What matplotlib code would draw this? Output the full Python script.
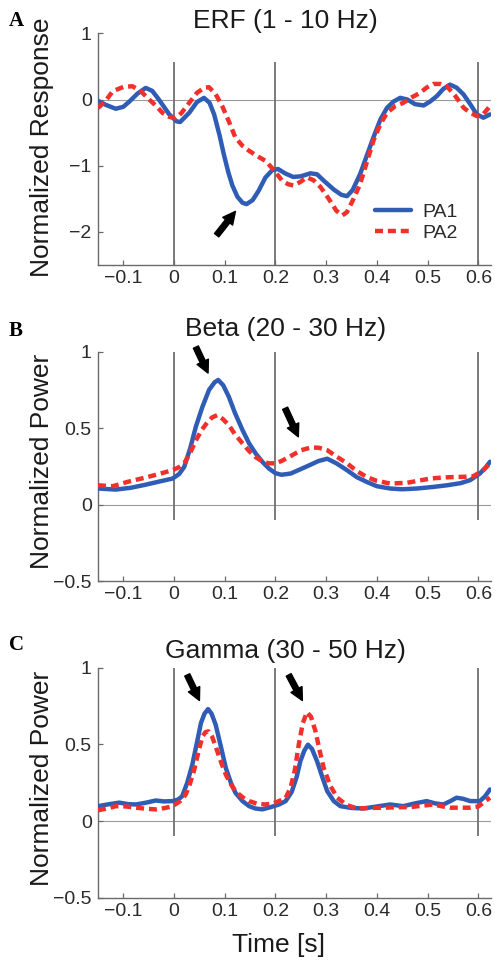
#!/usr/bin/env python3
"""ERF / beta / gamma responses for PA1 vs PA2, three stacked panels."""
import matplotlib

matplotlib.use("Agg")
import matplotlib.pyplot as plt

# ---- panel A: ERF (1 - 10 Hz) ----
erf_t_pa1 = [-0.15, -0.135, -0.115, -0.100, -0.088, -0.072, -0.056, -0.043, -0.030, -0.010,
             0.005, 0.012, 0.030, 0.045, 0.059, 0.070, 0.079, 0.090, 0.098, 0.107,
             0.115, 0.125, 0.135, 0.143, 0.155, 0.167, 0.180, 0.194, 0.205, 0.220,
             0.235, 0.250, 0.269, 0.282, 0.295, 0.315, 0.330, 0.341, 0.352, 0.367,
             0.380, 0.393, 0.407, 0.420, 0.433, 0.446, 0.460, 0.475, 0.492, 0.505,
             0.518, 0.531, 0.544, 0.557, 0.571, 0.584, 0.597, 0.610, 0.623]
erf_pa1 = [-0.02, -0.08, -0.14, -0.11, -0.03, 0.09, 0.175, 0.13, 0.0, -0.22,
           -0.33, -0.34, -0.2, -0.04, 0.025, -0.05, -0.225, -0.55, -0.825, -1.10,
           -1.30, -1.47, -1.56, -1.58, -1.52, -1.375, -1.18, -1.065, -1.05, -1.12,
           -1.17, -1.16, -1.115, -1.13, -1.225, -1.36, -1.44, -1.46, -1.37, -1.125,
           -0.85, -0.575, -0.30, -0.125, -0.03, 0.025, 0.0, -0.07, -0.09, -0.03,
           0.05, 0.16, 0.225, 0.18, 0.075, -0.07, -0.225, -0.275, -0.225]
erf_t_pa2 = [-0.15, -0.135, -0.121, -0.100, -0.082, -0.065, -0.049, -0.035, -0.023, -0.010,
             0.003, 0.015, 0.030, 0.045, 0.060, 0.069, 0.082, 0.095, 0.108, 0.121,
             0.135, 0.148, 0.165, 0.180, 0.195, 0.213, 0.225, 0.236, 0.250, 0.262,
             0.275, 0.289, 0.305, 0.320, 0.332, 0.341, 0.354, 0.367, 0.380, 0.393,
             0.407, 0.420, 0.436, 0.452, 0.468, 0.485, 0.498, 0.511, 0.525, 0.538,
             0.555, 0.571, 0.584, 0.597, 0.610, 0.623]
erf_pa2 = [-0.13, -0.02, 0.125, 0.19, 0.20, 0.12, 0.0, -0.1, -0.2, -0.26,
           -0.285, -0.2, -0.05, 0.1, 0.18, 0.185, 0.08, -0.1, -0.33, -0.575,
           -0.70, -0.775, -0.86, -0.925, -1.05, -1.225, -1.28, -1.3, -1.24, -1.175,
           -1.22, -1.325, -1.5, -1.68, -1.75, -1.70, -1.50, -1.275, -0.95, -0.625,
           -0.37, -0.2, -0.10, -0.05, 0.03, 0.10, 0.18, 0.235, 0.235, 0.2,
           0.05, -0.125, -0.2, -0.25, -0.22, -0.1]

# ---- panel B: beta (20 - 30 Hz) ----
beta_t_pa1 = [-0.15, -0.115, -0.085, -0.056, -0.030, -0.003, 0.010, 0.020, 0.032, 0.043,
              0.056, 0.069, 0.080, 0.087, 0.097, 0.108, 0.120, 0.135, 0.148, 0.161,
              0.174, 0.187, 0.200, 0.212, 0.230, 0.262, 0.285, 0.302, 0.320, 0.341,
              0.360, 0.380, 0.400, 0.426, 0.450, 0.479, 0.510, 0.538, 0.565, 0.584,
              0.603, 0.615, 0.623]
beta_pa1 = [0.105, 0.098, 0.11, 0.13, 0.15, 0.17, 0.20, 0.246, 0.37, 0.51,
            0.64, 0.75, 0.80, 0.815, 0.78, 0.705, 0.60, 0.487, 0.40, 0.334,
            0.28, 0.236, 0.205, 0.195, 0.203, 0.25, 0.285, 0.30, 0.27, 0.225,
            0.18, 0.148, 0.12, 0.105, 0.100, 0.105, 0.115, 0.126, 0.14, 0.16,
            0.203, 0.245, 0.28]
beta_t_pa2 = [-0.15, -0.121, -0.090, -0.056, -0.030, -0.003, 0.010, 0.020, 0.032, 0.043,
              0.055, 0.066, 0.075, 0.085, 0.096, 0.108, 0.120, 0.135, 0.148, 0.161,
              0.175, 0.187, 0.200, 0.212, 0.233, 0.250, 0.269, 0.285, 0.302, 0.320,
              0.341, 0.360, 0.380, 0.400, 0.426, 0.459, 0.480, 0.505, 0.530, 0.551,
              0.575, 0.590, 0.610, 0.623]
beta_pa2 = [0.126, 0.12, 0.15, 0.177, 0.20, 0.225, 0.245, 0.27, 0.34, 0.42,
            0.49, 0.54, 0.57, 0.585, 0.56, 0.52, 0.46, 0.40, 0.35, 0.31,
            0.28, 0.27, 0.27, 0.285, 0.323, 0.355, 0.373, 0.372, 0.356, 0.315,
            0.27, 0.22, 0.18, 0.155, 0.138, 0.142, 0.155, 0.17, 0.177, 0.18,
            0.182, 0.185, 0.225, 0.27]

# ---- panel C: gamma (30 - 50 Hz) ----
gamma_t_pa1 = [-0.15, -0.128, -0.108, -0.09, -0.075, -0.055, -0.036, -0.020, -0.003, 0.008,
               0.016, 0.026, 0.036, 0.045, 0.053, 0.060, 0.067, 0.074, 0.082, 0.092,
               0.102, 0.112, 0.121, 0.135, 0.148, 0.160, 0.174, 0.190, 0.207, 0.220,
               0.232, 0.242, 0.249, 0.257, 0.264, 0.272, 0.282, 0.292, 0.302, 0.315,
               0.328, 0.350, 0.374, 0.400, 0.426, 0.452, 0.475, 0.498, 0.515, 0.531,
               0.545, 0.557, 0.570, 0.584, 0.603, 0.613, 0.623]
gamma_pa1 = [0.097, 0.11, 0.12, 0.11, 0.108, 0.12, 0.134, 0.128, 0.13, 0.14,
             0.162, 0.25, 0.368, 0.51, 0.639, 0.70, 0.73, 0.70, 0.628, 0.49,
             0.347, 0.25, 0.184, 0.13, 0.097, 0.082, 0.076, 0.09, 0.108, 0.13,
             0.19, 0.29, 0.39, 0.46, 0.498, 0.47, 0.39, 0.29, 0.195, 0.13,
             0.097, 0.085, 0.082, 0.095, 0.108, 0.097, 0.115, 0.13, 0.115, 0.108,
             0.13, 0.152, 0.145, 0.13, 0.13, 0.16, 0.206]
gamma_t_pa2 = [-0.15, -0.128, -0.115, -0.095, -0.075, -0.055, -0.036, -0.018, -0.003, 0.012,
               0.023, 0.031, 0.039, 0.048, 0.056, 0.062, 0.068, 0.075, 0.082, 0.092,
               0.102, 0.112, 0.121, 0.135, 0.148, 0.165, 0.180, 0.195, 0.207, 0.220,
               0.230, 0.238, 0.246, 0.254, 0.262, 0.270, 0.279, 0.287, 0.295, 0.308,
               0.322, 0.340, 0.361, 0.385, 0.413, 0.440, 0.466, 0.490, 0.511, 0.530,
               0.544, 0.565, 0.584, 0.600, 0.612, 0.623]
gamma_pa2 = [0.07, 0.085, 0.097, 0.095, 0.087, 0.08, 0.076, 0.085, 0.097, 0.13,
             0.173, 0.24, 0.325, 0.45, 0.552, 0.58, 0.585, 0.55, 0.487, 0.39,
             0.303, 0.24, 0.195, 0.155, 0.13, 0.112, 0.108, 0.115, 0.13, 0.15,
             0.22, 0.33, 0.50, 0.64, 0.71, 0.68, 0.584, 0.46, 0.347, 0.23,
             0.152, 0.105, 0.082, 0.085, 0.087, 0.09, 0.091, 0.10, 0.108, 0.095,
             0.087, 0.087, 0.087, 0.095, 0.125, 0.152]

# arrows pointing at the effects: (tail_t, tail_v, tip_t, tip_v)
erf_arrows = [(0.084, -2.05, 0.121, -1.69)]
beta_arrows = [(0.043, 1.03, 0.067, 0.86), (0.219, 0.63, 0.245, 0.443)]
gamma_arrows = [(0.026, 0.953, 0.050, 0.786), (0.226, 0.953, 0.253, 0.786)]

event_times = [0.0, 0.2, 0.6]
x_ticks = [-0.1, 0, 0.1, 0.2, 0.3, 0.4, 0.5, 0.6]
x_ticklabels = ["\u22120.1", "0", "0.1", "0.2", "0.3", "0.4", "0.5", "0.6"]

BLUE = "#2f5db5"
RED = "#f2302b"
AX_GREY = "#6a6a6a"
SANS = ["Liberation Sans", "DejaVu Sans"]

plt.rcParams["font.family"] = SANS

fig = plt.figure(figsize=(4.95, 9.61), dpi=100)
W, H = 495.0, 961.0


def px_axes(left, top, right, bottom):
    return fig.add_axes([left / W, 1 - bottom / H, (right - left) / W, (bottom - top) / H])


def style(ax, ylim, yticks, yticklabels, vspan):
    ax.set_xlim(-0.15, 0.625)
    ax.set_ylim(*ylim)
    for side in ("top", "right"):
        ax.spines[side].set_visible(False)
    for side in ("left", "bottom"):
        ax.spines[side].set_color(AX_GREY)
        ax.spines[side].set_linewidth(1.0)
    ax.set_xticks(x_ticks)
    ax.set_xticklabels(x_ticklabels)
    ax.set_yticks(yticks)
    ax.set_yticklabels(yticklabels)
    ax.tick_params(direction="in", length=3.5, width=0.9, color=AX_GREY,
                   labelsize=14, labelcolor="#2a2a2a")
    ax.tick_params(axis="x", pad=3.5)
    ax.tick_params(axis="y", pad=4.5)
    ax.axhline(0, color="#9a9a9a", lw=0.8, zorder=1)
    ax.vlines(event_times, vspan[0], vspan[1], color="#707070", lw=1.3, zorder=1)


def arrows(ax, specs):
    for t0, v0, t1, v1 in specs:
        ax.annotate("", xy=(t1, v1), xytext=(t0, v0),
                    arrowprops=dict(arrowstyle="simple,head_length=0.5,head_width=0.5,tail_width=0.22",
                                    fc="black", ec="black", mutation_scale=18,
                                    shrinkA=0, shrinkB=0))


def curves(ax, t1, y1, t2, y2):
    h1, = ax.plot(t1, y1, color=BLUE, lw=3.2, solid_joinstyle="round",
                  solid_capstyle="round", zorder=3, label="PA1")
    h2, = ax.plot(t2, y2, color=RED, lw=3.2, ls=(0, (1.8, 1.1)),
                  dash_joinstyle="round", zorder=4, label="PA2")
    return h1, h2


# panel A
ax_a = px_axes(98, 33.3, 491, 265)
style(ax_a, (-2.5, 1), [-2, -1, 0, 1], ["\u22122", "\u22121", "0", "1"], (-2.5, 0.56))
curves(ax_a, erf_t_pa1, erf_pa1, erf_t_pa2, erf_pa2)
arrows(ax_a, erf_arrows)
ax_a.set_title("ERF (1 - 10 Hz)", fontsize=19, x=0.478, pad=2, color="#1a1a1a")
ax_a.set_ylabel("Normalized Response", fontsize=19, color="#1a1a1a")
ax_a.yaxis.set_label_coords(-0.112, 0.51)
ax_a.legend(loc="center left", bbox_to_anchor=(0.705, 0.183), frameon=False,
            fontsize=14, handlelength=1.85, handletextpad=0.6, labelspacing=0.15,
            borderpad=0, borderaxespad=0, labelcolor="#2a2a2a")

power_ticks = [-0.5, 0, 0.5, 1]
power_labels = ["\u22120.5", "0", "0.5", "1"]

# panel B
ax_b = px_axes(98, 351.7, 491, 581)
style(ax_b, (-0.5, 1), power_ticks, power_labels, (-0.1, 1.0))
curves(ax_b, beta_t_pa1, beta_pa1, beta_t_pa2, beta_pa2)
arrows(ax_b, beta_arrows)
ax_b.set_title("Beta (20 - 30 Hz)", fontsize=19, x=0.478, pad=11, color="#1a1a1a")
ax_b.set_ylabel("Normalized Power", fontsize=19, color="#1a1a1a")
ax_b.yaxis.set_label_coords(-0.112, 0.52)

# panel C
ax_c = px_axes(98, 667.7, 491, 897.7)
style(ax_c, (-0.5, 1), power_ticks, power_labels, (-0.1, 1.0))
curves(ax_c, gamma_t_pa1, gamma_pa1, gamma_t_pa2, gamma_pa2)
arrows(ax_c, gamma_arrows)
ax_c.set_title("Gamma (30 - 50 Hz)", fontsize=19, x=0.478, pad=7, color="#1a1a1a")
ax_c.set_ylabel("Normalized Power", fontsize=19, color="#1a1a1a")
ax_c.yaxis.set_label_coords(-0.112, 0.52)
ax_c.set_xlabel("Time [s]", fontsize=19, color="#1a1a1a")
ax_c.xaxis.set_label_coords(0.46, -0.155)

for letter, (px, py) in zip("ABC", [(16, 21), (16, 331), (16, 645)]):
    fig.text(px / W, 1 - py / H, letter, ha="center", va="center", fontsize=15,
             fontweight="bold", family=["Liberation Serif", "DejaVu Serif"])

fig.savefig("out.png", dpi=100)
